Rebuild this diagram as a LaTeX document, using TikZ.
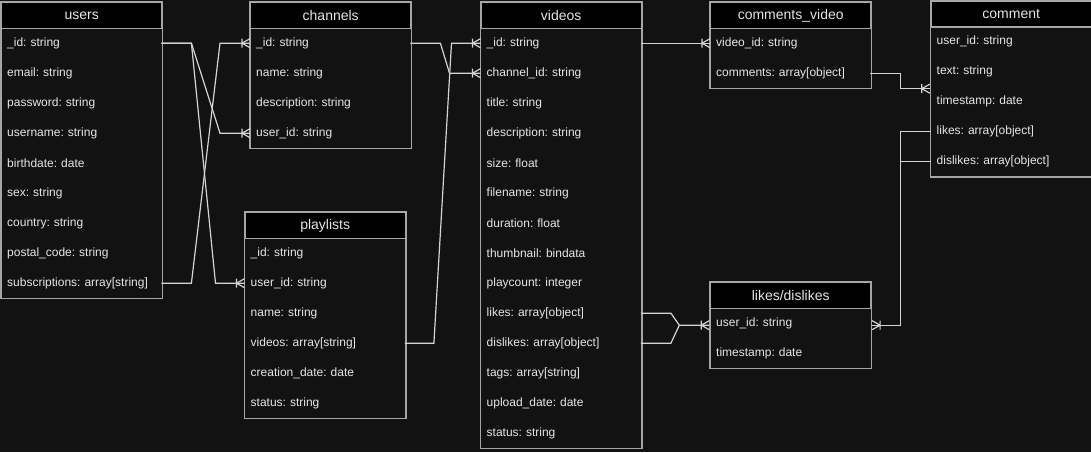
\documentclass[tikz,border=0pt]{standalone}
\usepackage{fontspec}
\setmainfont{Liberation Sans}
\usetikzlibrary{fit}
\frenchspacing
\definecolor{bg}{HTML}{121212}
\definecolor{edgec}{HTML}{A6A6A6}
\definecolor{txt}{HTML}{E6E6E6}
\definecolor{wirec}{HTML}{D4D4D4}
\tikzset{
  hdr/.style={fill=black, draw=edgec, line width=1.4pt, text=txt, font=\fontsize{14}{16}\selectfont, minimum height=26pt, inner sep=0pt, anchor=north west},
  rowbox/.style={text=txt, font=\fontsize{12}{14}\selectfont\frenchspacing, minimum height=30pt, inner xsep=6pt, inner ysep=0pt, align=left, anchor=north west},
  frame/.style={draw=edgec, line width=1.4pt, inner sep=0pt},
  wire/.style={draw=wirec, line width=1.2pt},
}
\newcommand\ertable[6]{%
  \pgfmathsetmacro\tw{#4-12}
  \node[hdr, minimum width=#4pt] (#1-h) at (#2,#3) {#5};
  \foreach \r [count=\i] in {#6} {
    \node[rowbox, text width=\tw pt] (#1-\i) at (#2,{#3+26+30*(\i-1)}) {\r};
    \xdef\lastrow{\i}
  }
  \node[frame, fit=(#1-h)(#1-\lastrow)] (#1) {};
}
\newcommand\crow[2]{\draw[wire, shift={#1}, xscale=#2] (-8,0) -- (0,-4.5) (-8,0) -- (0,4.5) (-8,-4.5) -- (-8,4.5);}
\begin{document}
\begin{tikzpicture}[x=1pt, y=-1pt]
\useasboundingbox (0,0) rectangle (1091,452);
\fill[bg] (0,0) rectangle (1091,452);

\ertable{users}{1}{2}{160}{users}{{\_id: string},{email: string},{password: string},{username: string},{birthdate: date},{sex: string},{country: string},{postal\_code: string},{subscriptions: array[string]}}
\ertable{channels}{250}{2}{160}{channels}{{\_id: string},{name: string},{description: string},{user\_id: string}}
\ertable{videos}{480.5}{2}{160}{videos}{{\_id: string},{channel\_id: string},{title: string},{description: string},{size: float},{filename: string},{duration: float},{thumbnail: bindata},{playcount: integer},{likes: array[object]},{dislikes: array[object]},{tags: array[string]},{upload\_date: date},{status: string}}
\ertable{cv}{710}{2}{160}{comments\_video}{{video\_id: string},{comments: array[object]}}
\ertable{comment}{930.5}{0.5}{160}{comment}{{user\_id: string},{text: string},{timestamp: date},{likes: array[object]},{dislikes: array[object]}}
\ertable{playlists}{244.5}{212}{160}{playlists}{{\_id: string},{user\_id: string},{name: string},{videos: array[string]},{creation\_date: date},{status: string}}
\ertable{ld}{710}{282}{160}{likes/dislikes}{{user\_id: string},{timestamp: date}}

% connectors
\draw[wire] (users-1.east) -- ++(30,0) -- ([xshift=-30pt]channels-4.west) -- (channels-4.west);
\draw[wire] (users-1.east) -- ++(30,0) -- ([xshift=-29pt]playlists-2.west) -- (playlists-2.west);
\draw[wire] (users-9.east) -- ++(30,0) -- ([xshift=-30pt]channels-1.west) -- (channels-1.west);
\draw[wire] (channels-1.east) -- ++(30,0) -- ([xshift=-31pt]videos-2.west) -- (videos-2.west);
\draw[wire] (playlists-4.east) -- ++(29,0) -- ([xshift=-29pt]videos-1.west) -- (videos-1.west);
\draw[wire] (videos-1.east) -- (cv-1.west);
\draw[wire] (cv-2.east) -- ++(30,0) |- (comment.west);
\draw[wire] (videos-10.east) -- ++(30,0) -- ([xshift=-30pt]ld.west) -- (ld.west);
\draw[wire] (videos-11.east) -- ++(30,0) -- ([xshift=-30pt]ld.west);
\draw[wire] (comment-4.west) -- ++(-30,0) |- (ld.east);
\draw[wire] (comment-5.west) -- ++(-30,0);

\crow{(channels-4.west)}{1}
\crow{(playlists-2.west)}{1}
\crow{(channels-1.west)}{1}
\crow{(videos-2.west)}{1}
\crow{(videos-1.west)}{1}
\crow{(cv-1.west)}{1}
\crow{(comment.west)}{1}
\crow{(ld.west)}{1}
\crow{(ld.east)}{-1}
\end{tikzpicture}
\end{document}
